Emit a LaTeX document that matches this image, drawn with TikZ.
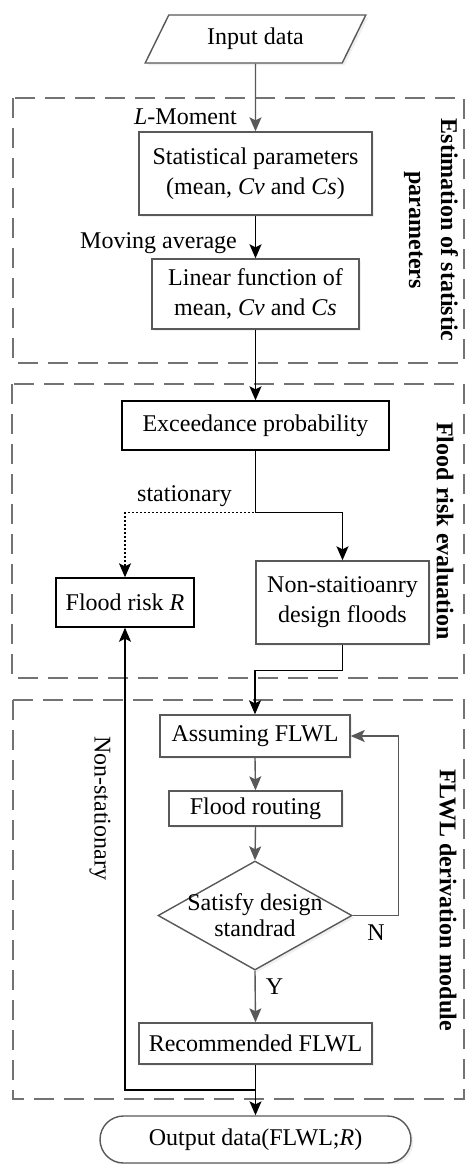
\documentclass[tikz,border=0pt]{standalone}
\usepackage{fontspec}
\setmainfont{Liberation Serif}
\usepackage{tikz}
\usetikzlibrary{shapes.geometric, shapes.misc, arrows.meta, positioning, shadows}

\begin{document}
\begin{tikzpicture}[
  x=0.5pt, y=-0.5pt,
  font=\fontsize{12}{15}\selectfont,
  gbox/.style={draw=black!65, fill=white, align=center, inner sep=1pt,
               drop shadow={opacity=0.12, shadow xshift=1.2pt, shadow yshift=-1.2pt}},
  bbox/.style={draw=black, fill=white, align=center, inner sep=1pt},
  iobox/.style={gbox, trapezium, trapezium left angle=62, trapezium right angle=118,
                trapezium stretches=true, minimum width=110.5pt, minimum height=24pt},
  endbox/.style={gbox, rounded rectangle, minimum width=157.5pt, minimum height=23.5pt},
  decide/.style={gbox, diamond, inner sep=0pt, minimum width=97pt, minimum height=54.5pt},
  frame/.style={draw=black!55, dash pattern=on 10pt off 5pt},
  side/.style={font=\bfseries\fontsize{12}{16}\selectfont, rotate=-90, align=center},
  lbl/.style={inner sep=0pt},
  garrow/.style={->, draw=black!65},
  >={Stealth[length=7pt, width=6pt, inset=1.5pt]}, line width=0.7pt
]
\useasboundingbox (0,0) rectangle (466,1164);

% module frames
\draw[frame] (13,98) rectangle (464,363);
\draw[frame] (12,384) rectangle (464,678);
\draw[frame] (13,700) rectangle (464,1099);
\node[side] (estlab) at (431,230) {Estimation of statistic\\parameters};
\node[side] (risklab) at (445,531) {Flood risk evaluation};
\node[side] (flwllab) at (448,900) {FLWL derivation module};

% nodes
\node[iobox] (input) at (255.5,39) {Input data};
\node[gbox, minimum width=116.5pt, minimum height=41.5pt] (stat) at (255.5,173.5)
    {Statistical parameters\\(mean, \textit{Cv} and \textit{Cs})};
\node[gbox, minimum width=103.5pt, minimum height=35pt] (lin) at (255.5,294)
    {Linear function of\\mean, \textit{Cv} and \textit{Cs}};
\node[bbox, minimum width=133.5pt, minimum height=24.5pt] (exc) at (255.5,425.5)
    {Exceedance probability};
\node[bbox, minimum width=69pt, minimum height=24.5pt] (risk) at (125,602.5)
    {Flood risk \textit{R}};
\node[gbox, minimum width=86.5pt, minimum height=41.5pt] (nsd) at (342.5,602.5)
    {Non-staitioanry\\design floods};
\node[gbox, minimum width=95pt, minimum height=21pt] (assume) at (255,736)
    {Assuming FLWL};
\node[gbox, minimum width=86.5pt, minimum height=17.5pt] (route) at (255.5,808.5)
    {Flood routing};
\node[decide] (sat) at (255,915.5) {};
\node[align=center, font=\fontsize{12}{13}\selectfont] (sattext) at (sat) {Satisfy design\\standrad};
\node[gbox, minimum width=116.5pt, minimum height=20.5pt] (rec) at (255.5,1043.5)
    {Recommended FLWL};
\node[endbox] (out) at (255.5,1139.5) {Output data(FLWL;\textit{R})};
\coordinate (jn) at (255.5,1090);

% connectors
\draw[garrow] (input.south) -- (stat.north)
    node[lbl, pos=0.78, left=9pt] (lmom) {\textit{L}-Moment};
\draw[->] (stat.south) -- (lin.north)
    node[lbl, pos=0.64, left=9pt] (mavg) {Moving average};
\draw[->] (lin.south) -- (exc.north);
\draw[->, dash pattern=on 1pt off 1pt] (exc.south) -- ++(0,62) -| (risk.north);
\node[lbl] (statlab) at (184.5,496) {stationary};
\draw[->] (exc.south) -- ++(0,62) -| (nsd.north);
\draw[->] (nsd.south) -- ++(0,26) -| (assume.north);
\draw[garrow] (assume.south) -- (route.north);
\draw[garrow] (route.south) -- (sat.north);
\draw[garrow] (sat.south) -- (rec.north)
    node[lbl, pos=0.3, right=5pt] (ylab) {Y};
\draw[garrow] (sat.east) -- ++(46,0) |- (assume.east);
\node[lbl] (nlab) at (376,933) {N};
\draw[->] (rec.south) -- (out.north);
\draw[->] (jn) -| (risk.south);
\node[lbl, rotate=-90] (nslab) at (100,808) {Non-stationary};
\end{tikzpicture}
\end{document}
